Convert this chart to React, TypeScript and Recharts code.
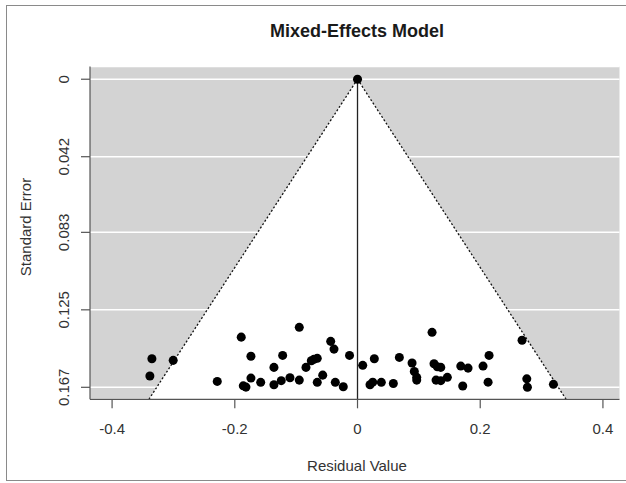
import React from 'react';
import {
  ScatterChart,
  Scatter,
  XAxis,
  YAxis,
  ZAxis,
  CartesianGrid,
  ReferenceArea,
  ReferenceLine,
} from 'recharts';

// Residual values (x) and standard errors (y) of the studies
const residuals = [
  -0.3351, -0.3004, -0.3384, -0.2286, -0.1895, -0.1862, -0.1818, -0.1737, -0.1737, -0.1578,
  -0.1362, -0.1362, -0.1243, -0.122, -0.1101, -0.0949, -0.0949, -0.084, -0.0753, -0.0709,
  -0.0656, -0.0656, -0.0567, -0.0437, -0.0383, -0.0362, -0.0232, -0.013, 0.0085, 0.0204,
  0.0248, 0.0274, 0.0388, 0.0584, 0.0682, 0.0889, 0.0926, 0.0965, 0.0965, 0.1215,
  0.1247, 0.1301, 0.1357, 0.128, 0.1357, 0.1464, 0.1683, 0.1715, 0.1802, 0.2046,
  0.2144, 0.2128, 0.2682, 0.2759, 0.2769, 0.3193, 0,
];
const standardErrors = [
  0.1515, 0.1524, 0.1609, 0.1638, 0.1398, 0.1662, 0.1669, 0.1502, 0.162, 0.1643,
  0.1562, 0.1656, 0.1634, 0.1497, 0.1618, 0.1345, 0.1631, 0.1562, 0.1526, 0.1518,
  0.1513, 0.1643, 0.1604, 0.1421, 0.1463, 0.1643, 0.1667, 0.1497, 0.1551, 0.1656,
  0.1642, 0.1515, 0.1643, 0.1649, 0.1508, 0.1538, 0.1584, 0.1616, 0.1631, 0.1372,
  0.1542, 0.1559, 0.1562, 0.1631, 0.1634, 0.1616, 0.1555, 0.1663, 0.1566, 0.1555,
  0.1497, 0.1642, 0.1415, 0.1624, 0.167, 0.1654, 0,
];

const xTicks = [-0.4, -0.2, 0, 0.2, 0.4];
const xTickLabels = ['-0.4', '-0.2', '0', '0.2', '0.4'];
const yTicks = [0, 0.042, 0.083, 0.125, 0.167];
const yTickLabels = ['0', '0.042', '0.083', '0.125', '0.167'];

const xDomain = [-0.436, 0.427];
const yDomain = [-0.0069, 0.1735];
const funnelEdge = 0.34; // residual bound of the funnel at the bottom of the plot
const funnelBottom = 0.1735;

const data = residuals.map((r, i) => ({ x: r, y: standardErrors[i] }));

const FONT = '"Liberation Sans", Arial, sans-serif';

const XTick = (props: any) => {
  const { x, y, payload } = props;
  const i = xTicks.indexOf(payload.value);
  return (
    <text x={x} y={y + 24} textAnchor="middle" fontSize={15} fontFamily={FONT} fill="#333">
      {i >= 0 ? xTickLabels[i] : payload.value}
    </text>
  );
};

const YTick = (props: any) => {
  const { x, y, payload } = props;
  const i = yTicks.indexOf(payload.value);
  const cx = x - 15.5;
  return (
    <text
      x={cx}
      y={y}
      dy="0.35em"
      transform={`rotate(-90 ${cx} ${y})`}
      textAnchor="middle"
      fontSize={15}
      fontFamily={FONT}
      fill="#333"
    >
      {i >= 0 ? yTickLabels[i] : payload.value}
    </text>
  );
};

const Triangle = (props: any) => {
  const { x, y, width, height } = props;
  const pts = `${x + width / 2},${y} ${x},${y + height} ${x + width},${y + height}`;
  return <polygon points={pts} fill="#ffffff" stroke="none" />;
};

export default function App() {
  return (
    <div style={{ position: 'absolute', left: 0, top: 0, width: 626, height: 483, background: '#fff' }}>
      <div
        style={{
          position: 'absolute',
          left: 6,
          top: 5,
          width: 640,
          height: 474,
          borderLeft: '1.5px solid #8a8a8a',
          borderTop: '1.5px solid #8a8a8a',
          borderBottom: '1.5px solid #8a8a8a',
          pointerEvents: 'none',
        }}
      />
      <ScatterChart
        width={626}
        height={483}
        margin={{ top: 66.5, right: 6.5, bottom: 53.7, left: 30 }}
        style={{ position: 'absolute', left: 0, top: 0 }}
      >
        <CartesianGrid
          vertical={false}
          horizontal={true}
          stroke="#ffffff"
          strokeWidth={1.5}
          fill="#d3d3d3"
          fillOpacity={1}
        />
        <XAxis
          type="number"
          dataKey="x"
          domain={xDomain}
          ticks={xTicks}
          allowDataOverflow
          height={30}
          tickSize={9}
          tick={<XTick />}
          axisLine={{ stroke: '#555', strokeWidth: 1.2 }}
          tickLine={{ stroke: '#555', strokeWidth: 1.2 }}
          interval={0}
        />
        <YAxis
          type="number"
          dataKey="y"
          domain={yDomain}
          ticks={yTicks}
          reversed
          allowDataOverflow
          width={60}
          tickSize={9}
          tick={<YTick />}
          axisLine={{ stroke: '#555', strokeWidth: 1.2 }}
          tickLine={{ stroke: '#555', strokeWidth: 1.2 }}
          interval={0}
        />
        <ZAxis range={[36, 36]} />
        <ReferenceArea
          x1={-funnelEdge}
          x2={funnelEdge}
          y1={0}
          y2={funnelBottom}
          shape={<Triangle />}
          ifOverflow="visible"
        />
        <ReferenceLine
          segment={[{ x: 0, y: 0 }, { x: -funnelEdge, y: funnelBottom }]}
          stroke="#111"
          strokeWidth={1.3}
          strokeDasharray="2 2"
          ifOverflow="visible"
        />
        <ReferenceLine
          segment={[{ x: 0, y: 0 }, { x: funnelEdge, y: funnelBottom }]}
          stroke="#111"
          strokeWidth={1.3}
          strokeDasharray="2 2"
          ifOverflow="visible"
        />
        <ReferenceLine
          segment={[{ x: 0, y: 0 }, { x: 0, y: funnelBottom }]}
          stroke="#222"
          strokeWidth={1.3}
          ifOverflow="visible"
        />
        <Scatter data={data} fill="#000000" isAnimationActive={false} />
      </ScatterChart>
      <svg
        width={626}
        height={483}
        style={{ position: 'absolute', left: 0, top: 0, pointerEvents: 'none' }}
      >
        <text x={357} y={37} textAnchor="middle" fontSize={18} fontWeight="bold" fontFamily={FONT} fill="#1a1a1a">
          Mixed-Effects Model
        </text>
        <text x={357} y={471} textAnchor="middle" fontSize={15} fontFamily={FONT} fill="#333">
          Residual Value
        </text>
        <text
          x={31}
          y={227}
          transform="rotate(-90 31 227)"
          textAnchor="middle"
          fontSize={15}
          fontFamily={FONT}
          fill="#333"
        >
          Standard Error
        </text>
      </svg>
    </div>
  );
}
